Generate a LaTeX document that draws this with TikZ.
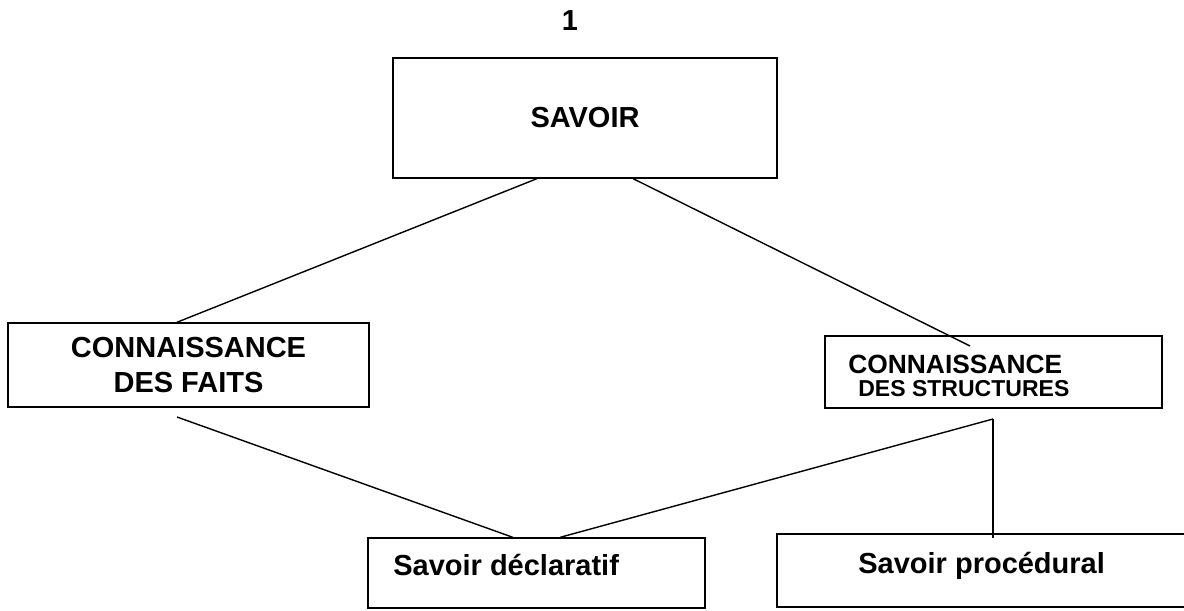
\documentclass[tikz,border=0pt]{standalone}
\usepackage{fontspec}
\setmainfont{Liberation Sans}
\usetikzlibrary{calc,positioning}

\begin{document}
\begin{tikzpicture}[
    box/.style={draw, line width=0.028cm, inner sep=0pt, font=\bfseries\fontsize{16.5}{19.8}\selectfont},
    boxtext/.style={inner sep=0pt, font=\bfseries\fontsize{16.5}{19.8}\selectfont},
    link/.style={line width=0.028cm}]
                        \useasboundingbox (0.000000,0.000000) rectangle (23.680000,12.200000);
                        {

                        % Marking page number
                        \node [boxtext] (pagenum) at (11.400000,11.780000) {1};%

                        % Drawing box SAVOIR
                        \node [box, minimum width=7.680000cm, minimum height=2.400000cm] (savoir) at (11.700000,9.840000) {SAVOIR};%

                        % Drawing box CONNAISSANCE DES FAITS
                        \node [box, align=center, minimum width=7.220000cm, minimum height=1.680000cm] (faits) at (3.770000,4.900000) {CONNAISSANCE\\DES FAITS};%

                        % Drawing box CONNAISSANCE DES STRUCTURES
                        \node [box, minimum width=6.740000cm, minimum height=1.440000cm] (structures) at (19.870000,4.760000) {};%
                        \node [boxtext, anchor=west, font=\bfseries\fontsize{15}{18}\selectfont] (structuresA) at (16.960000,4.920000) {CONNAISSANCE};%
                        \node [boxtext, anchor=west, font=\bfseries\fontsize{13.1}{15.7}\selectfont] (structuresB) at (17.160000,4.420000) {DES STRUCTURES};%

                        % Drawing box Savoir declaratif
                        \node [box, minimum width=6.740000cm, minimum height=1.400000cm] (declaratif) at (10.730000,0.740000) {};%
                        \node [boxtext, anchor=base west] (declaratifA) at (7.860000,0.700000) {Savoir déclaratif};%

                        % Drawing box Savoir procedural
                        \node [box, minimum width=8.260000cm, minimum height=1.460000cm] (procedural) at (19.670000,0.790000) {};%
                        \node [boxtext, anchor=base west] (proceduralA) at (17.160000,0.740000) {Savoir procédural};%

                        % Free ends of the connectors
                        \coordinate (structuresin) at (19.400000,5.280000);%
                        \coordinate (faitsout) at (3.540000,3.860000);%
                        \coordinate (structuresout) at (19.860000,3.820000);%
                        \coordinate (proceduralin) at (19.860000,1.440000);%

                        % Drawing line SAVOIR FAITS
                        \draw [link] ($(savoir.south west)!0.375!(savoir.south east)$) -- ($(faits.north west)!0.468!(faits.north east)$);%

                        % Drawing line SAVOIR STRUCTURES
                        \draw [link] ($(savoir.south west)!0.625!(savoir.south east)$) -- (structuresin);%

                        % Drawing line FAITS declaratif
                        \draw [link] (faitsout) -- ($(declaratif.north west)!0.430!(declaratif.north east)$);%

                        % Drawing line STRUCTURES declaratif
                        \draw [link] (structuresout) -- ($(declaratif.north west)!0.570!(declaratif.north east)$);%

                        % Drawing line STRUCTURES procedural
                        \draw [link] (structuresout) -- (proceduralin);%
                        }
                    \end{tikzpicture}
\end{document}
